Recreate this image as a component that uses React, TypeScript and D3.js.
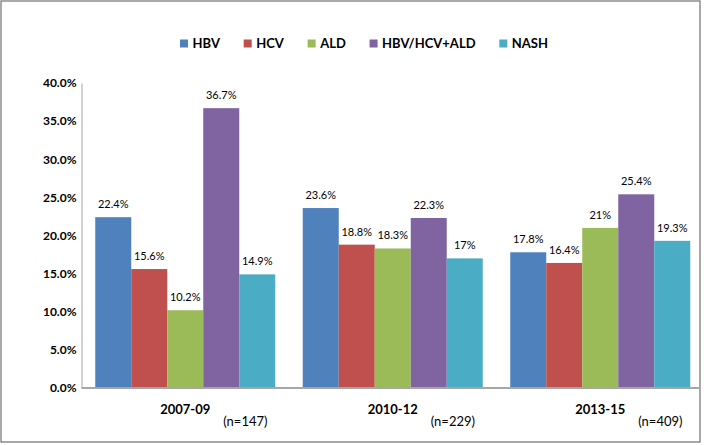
import React, { useEffect, useRef } from 'react';
import * as d3 from 'd3';

const periods = ['2007-09', '2010-12', '2013-15'];
const sampleSizes = ['(n=147)', '(n=229)', '(n=409)'];
const seriesNames = ['HBV', 'HCV', 'ALD', 'HBV/HCV+ALD', 'NASH'];
const seriesColors = ['#4F81BD', '#C0504D', '#9BBB59', '#8064A2', '#4BACC6'];
const hbv = [22.4, 23.6, 17.8];
const hcv = [15.6, 18.8, 16.4];
const ald = [10.2, 18.3, 21];
const mixed = [36.7, 22.3, 25.4];
const nash = [14.9, 17, 19.3];
const yTicks = [0, 5, 10, 15, 20, 25, 30, 35, 40];

const seriesValues = [hbv, hcv, ald, mixed, nash];

const FONT = 'Lato, "Open Sans", sans-serif';

const App: React.FC = () => {
  const svgRef = useRef<SVGSVGElement>(null);

  useEffect(() => {
    if (!svgRef.current) return;
    const svg = d3.select(svgRef.current);
    svg.selectAll('*').remove();

    const plotLeft = 81.5;
    const plotRight = 704;
    const plotTop = 83;
    const plotBottom = 388;

    // outer frame
    svg.append('rect')
      .attr('x', 1)
      .attr('y', 1)
      .attr('width', 699)
      .attr('height', 441)
      .attr('fill', '#fff')
      .attr('stroke', '#858585')
      .attr('stroke-width', 1.4);

    const x0 = d3.scaleBand<string>()
      .domain(periods)
      .range([plotLeft, plotRight]);

    const x1 = d3.scaleBand<string>()
      .domain(seriesNames)
      .range([13.75, x0.bandwidth() - 13.75]);

    const y = d3.scaleLinear()
      .domain([0, 40])
      .range([plotBottom, plotTop]);

    const rows = periods.flatMap((p, i) =>
      seriesNames.map((s, j) => ({ period: p, series: s, value: seriesValues[j][i], color: seriesColors[j] }))
    );

    const g = svg.append('g');

    // bars
    g.selectAll('rect.bar')
      .data(rows)
      .enter()
      .append('rect')
      .attr('class', 'bar')
      .attr('x', d => (x0(d.period) as number) + (x1(d.series) as number))
      .attr('y', d => y(d.value))
      .attr('width', x1.bandwidth())
      .attr('height', d => plotBottom - y(d.value))
      .attr('fill', d => d.color);

    // value labels
    const fmt = (v: number) => (v % 1 === 0 ? `${v}%` : `${v.toFixed(1)}%`);
    g.selectAll('text.val')
      .data(rows)
      .enter()
      .append('text')
      .attr('class', 'val')
      .attr('x', d => (x0(d.period) as number) + (x1(d.series) as number) + x1.bandwidth() / 2)
      .attr('y', d => y(d.value) - 9)
      .attr('text-anchor', 'middle')
      .attr('font-family', FONT)
      .attr('font-size', 11)
      .attr('fill', '#000')
      .text(d => fmt(d.value));

    // y axis
    const yAxis = g.append('g')
      .attr('transform', `translate(${plotLeft},0)`)
      .call(d3.axisLeft(y).tickValues(yTicks).tickSize(0).tickPadding(5).tickFormat(d => `${(d as number).toFixed(1)}%`));
    yAxis.select('.domain').attr('stroke', '#a6a6a6').attr('stroke-width', 1);
    yAxis.selectAll('text')
      .attr('font-family', FONT)
      .attr('font-size', 12)
      .attr('font-weight', 'bold')
      .attr('fill', '#000');

    // x axis line
    g.append('line')
      .attr('x1', plotLeft)
      .attr('x2', 700)
      .attr('y1', plotBottom)
      .attr('y2', plotBottom)
      .attr('stroke', '#a6a6a6')
      .attr('stroke-width', 1.8);

    // category labels
    g.selectAll('text.cat')
      .data(periods)
      .enter()
      .append('text')
      .attr('class', 'cat')
      .attr('x', d => (x0(d) as number) + x0.bandwidth() / 2)
      .attr('y', 414)
      .attr('text-anchor', 'middle')
      .attr('font-family', FONT)
      .attr('font-size', 13)
      .attr('font-weight', 'bold')
      .attr('fill', '#000')
      .text(d => d);

    g.selectAll('text.n')
      .data(sampleSizes)
      .enter()
      .append('text')
      .attr('class', 'n')
      .attr('x', (d, i) => (x0(periods[i]) as number) + x0.bandwidth() / 2 + 38)
      .attr('y', 426)
      .attr('font-family', FONT)
      .attr('font-size', 13)
      .attr('fill', '#000')
      .text(d => d);

    // legend, spread between 180 and 548 like the original
    const canvas = document.createElement('canvas');
    const ctx = canvas.getContext('2d') as CanvasRenderingContext2D;
    ctx.font = `bold 13px ${FONT}`;
    const widths = seriesNames.map(s => ctx.measureText(s).width);
    const markerSize = 8;
    const markerGap = 4.5;
    const legendStart = 180;
    const legendEnd = 548;
    const itemGap = (legendEnd - legendStart - d3.sum(widths) - seriesNames.length * (markerSize + markerGap)) / (seriesNames.length - 1);
    let cursor = legendStart;
    const legend = svg.append('g');
    seriesNames.forEach((s, i) => {
      legend.append('rect')
        .attr('x', cursor)
        .attr('y', 39.5)
        .attr('width', markerSize)
        .attr('height', markerSize)
        .attr('fill', seriesColors[i]);
      legend.append('text')
        .attr('x', cursor + markerSize + markerGap)
        .attr('y', 47.5)
        .attr('font-family', FONT)
        .attr('font-size', 13)
        .attr('font-weight', 'bold')
        .attr('fill', '#000')
        .text(s);
      cursor += markerSize + markerGap + widths[i] + itemGap;
    });
  }, []);

  return (
    <svg
      ref={svgRef}
      width={704}
      height={445}
      style={{ position: 'absolute', left: 0, top: 0 }}
    />
  );
};

export default App;
